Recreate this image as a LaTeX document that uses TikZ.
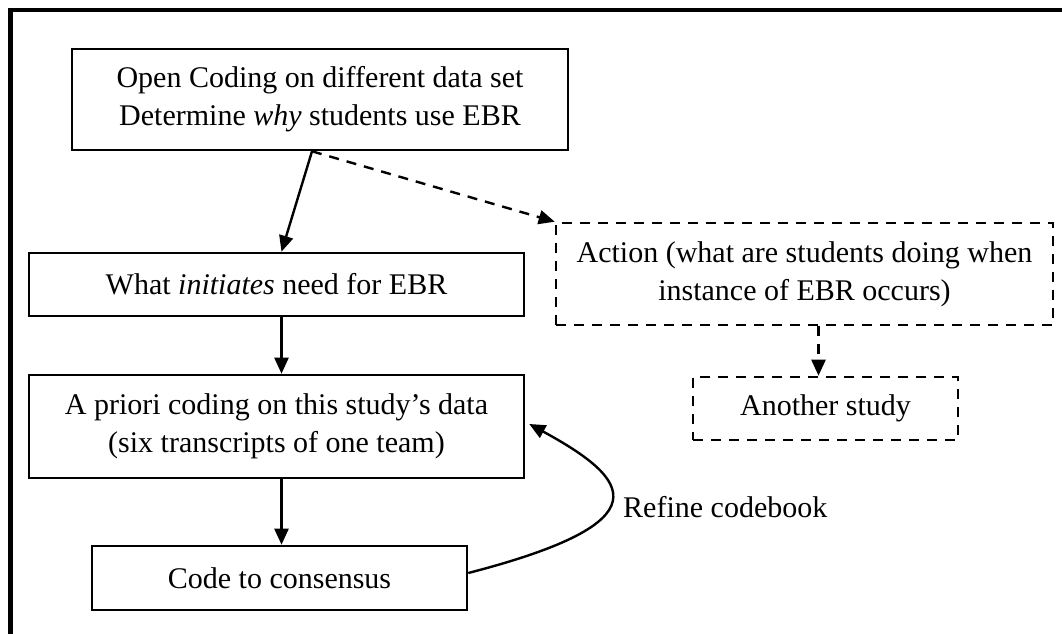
\documentclass[tikz,border=0pt]{standalone}
\usepackage{fontspec}
\setmainfont{Liberation Serif}
\usetikzlibrary{arrows.meta,calc}
\begin{document}
\begin{tikzpicture}[x=1pt,y=-1pt,
  box/.style={draw,line width=2.6pt,inner sep=0pt,align=center,
    font=\fontsize{30}{38}\selectfont},
  dbox/.style={box,dash pattern=on 10pt off 8pt},
  arr/.style={line width=2.4pt,-{Triangle[length=16pt,width=14pt]}},
  darr/.style={arr,dash pattern=on 10pt off 8pt}]
\useasboundingbox (0,0) rectangle (1062,633);
\fill[white] (0,0) rectangle (1062,633);
\draw[line width=4.5pt] (10.5,640) -- (10.5,10) -- (1070,10);
\node[box,minimum width=496pt,minimum height=101pt] (b1) at (320,99.5)
  {Open Coding on different data set\\Determine \textit{why} students use EBR};
\node[box,minimum width=495pt,minimum height=63pt] (b2) at (276.5,284.5)
  {What \textit{initiates} need for EBR};
\node[box,minimum width=495pt,minimum height=103pt] (b3) at (276.5,426.5)
  {A priori coding on this study’s data\\(six transcripts of one team)};
\node[box,minimum width=375pt,minimum height=64pt] (b4) at (279.5,578)
  {Code to consensus};
\node[dbox,minimum width=497pt,minimum height=102pt] (act) at (804.5,274)
  {Action (what are students doing when\\instance of EBR occurs)};
\node[dbox,minimum width=265pt,minimum height=63pt] (ano) at (825.5,408.5)
  {Another study};
\coordinate (s1) at ($(b1.south)+(-8,0)$);
\draw[arr] (s1) -- ($(b2.north)+(5,0)$);
\draw[darr] (s1) -- (act.north west);
\draw[arr] (b2.south -| b2.north) ++(5,0) coordinate (s2) -- (s2 |- b3.north);
\draw[arr] (b3.south) ++(5,0) coordinate (s3) -- (s3 |- b4.north);
\coordinate (s4) at ($(ano.north)+(-7,0)$);
\draw[darr] (s4 |- act.south) -- (s4);
\draw[arr] ($(b4.east)+(0,-5)$) .. controls (665,522) and (632,480) .. ($(b3.east)+(4,-2.5)$);
\node[anchor=west,inner sep=0pt,font=\fontsize{30}{38}\selectfont] (lbl) at (623,507) {Refine codebook};
\end{tikzpicture}
\end{document}
